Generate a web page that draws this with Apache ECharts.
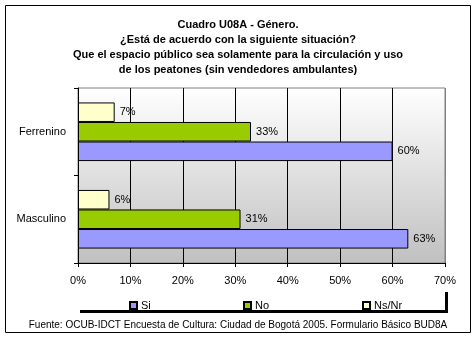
<!DOCTYPE html>
<html>
<head>
<meta charset="utf-8">
<script src="https://cdn.jsdelivr.net/npm/echarts@6/dist/echarts.min.js"></script>
<style>
  html, body { margin: 0; padding: 0; background: #fff; }
  #chart { width: 476px; height: 340px; }
</style>
</head>
<body>
<div id="chart"></div>
<script>
// Survey answers by gender (percent)
const categories = ['Masculino', 'Ferrenino'];
const si = [63, 60];
const no = [31, 33];
const nsnr = [6, 7];
const seriesNames = ['Si', 'No', 'Ns/Nr'];
const xTicks = [0, 10, 20, 30, 40, 50, 60, 70];

const FONT = '"Liberation Sans", Arial, sans-serif';
const chart = echarts.init(document.getElementById('chart'), null, { renderer: 'canvas' });

const labelCfg = {
  show: true,
  position: 'right',
  distance: 5,
  color: '#000',
  fontFamily: FONT,
  fontSize: 11,
  formatter: p => p.value + '%'
};

function barSeries(name, data, color) {
  return {
    name: name,
    type: 'bar',
    data: data,
    barGap: '0%',
    barCategoryGap: '33%',
    itemStyle: { color: color, borderColor: '#000', borderWidth: 1 },
    label: labelCfg,
    emphasis: { disabled: true }
  };
}

function legendAt(name, left) {
  return {
    data: [name],
    left: left,
    top: 295,
    icon: 'rect',
    itemWidth: 7,
    itemHeight: 7,
    itemGap: 4,
    textStyle: { fontFamily: FONT, fontSize: 11, color: '#000', padding: [0, 0, 0, -1] }
  };
}

chart.setOption({
  animation: false,
  backgroundColor: '#fff',
  title: {
    text: 'Cuadro U08A - Género.\n¿Está de acuerdo con la siguiente situación?\nQue el espacio público sea solamente para la circulación y uso\nde los peatones (sin vendedores ambulantes)',
    left: 'center',
    top: 12,
    textStyle: { fontFamily: FONT, fontSize: 11, fontWeight: 'bold', color: '#000', lineHeight: 15 }
  },
  legend: [legendAt('Si', 124), legendAt('No', 238), legendAt('Ns/Nr', 357)],
  grid: {
    left: 78, right: 31, top: 88, bottom: 77,
    show: true,
    borderColor: '#808080',
    borderWidth: 1,
    backgroundColor: new echarts.graphic.LinearGradient(0, 0, 0, 1, [
      { offset: 0, color: '#ffffff' },
      { offset: 1, color: '#c0c0c0' }
    ])
  },
  xAxis: {
    type: 'value',
    min: xTicks[0],
    max: xTicks[xTicks.length - 1],
    interval: 10,
    axisLine: { show: true, lineStyle: { color: '#000' } },
    axisTick: { show: true, length: 4, lineStyle: { color: '#000' } },
    axisLabel: { formatter: '{value}%', color: '#000', fontFamily: FONT, fontSize: 11, margin: 12 },
    splitLine: { show: true, lineStyle: { color: ['#000', '#000', '#000', '#000', '#000', '#000', '#000', '#808080'], width: 1 } }
  },
  yAxis: {
    type: 'category',
    data: categories,
    axisLine: { show: true, lineStyle: { color: '#000' } },
    axisTick: { show: true, length: 4, lineStyle: { color: '#000' } },
    axisLabel: { color: '#000', fontFamily: FONT, fontSize: 11, margin: 12 }
  },
  // listed top-down within each category: Ns/Nr, No, Si
  series: [
    barSeries(seriesNames[2], nsnr, '#ffffcc'),
    barSeries(seriesNames[1], no, '#99cc00'),
    barSeries(seriesNames[0], si, '#9999ff')
  ],
  graphic: [
    // outer frame
    { type: 'rect', shape: { x: 5.5, y: 5.5, width: 465, height: 327 }, style: { fill: 'none', stroke: '#000', lineWidth: 1 }, z: 100 },
    // legend box shadow
    { type: 'rect', shape: { x: 445, y: 292, width: 3, height: 21 }, style: { fill: '#000' }, z: 100 },
    { type: 'rect', shape: { x: 80, y: 310, width: 368, height: 3 }, style: { fill: '#000' }, z: 100 },
    // source note
    { type: 'text', left: 'center', top: 320, style: { text: 'Fuente: OCUB-IDCT Encuesta de Cultura: Ciudad de Bogotá 2005. Formulario Básico BUD8A', font: '10px ' + FONT, fill: '#000' }, z: 100 }
  ]
});
</script>
</body>
</html>
